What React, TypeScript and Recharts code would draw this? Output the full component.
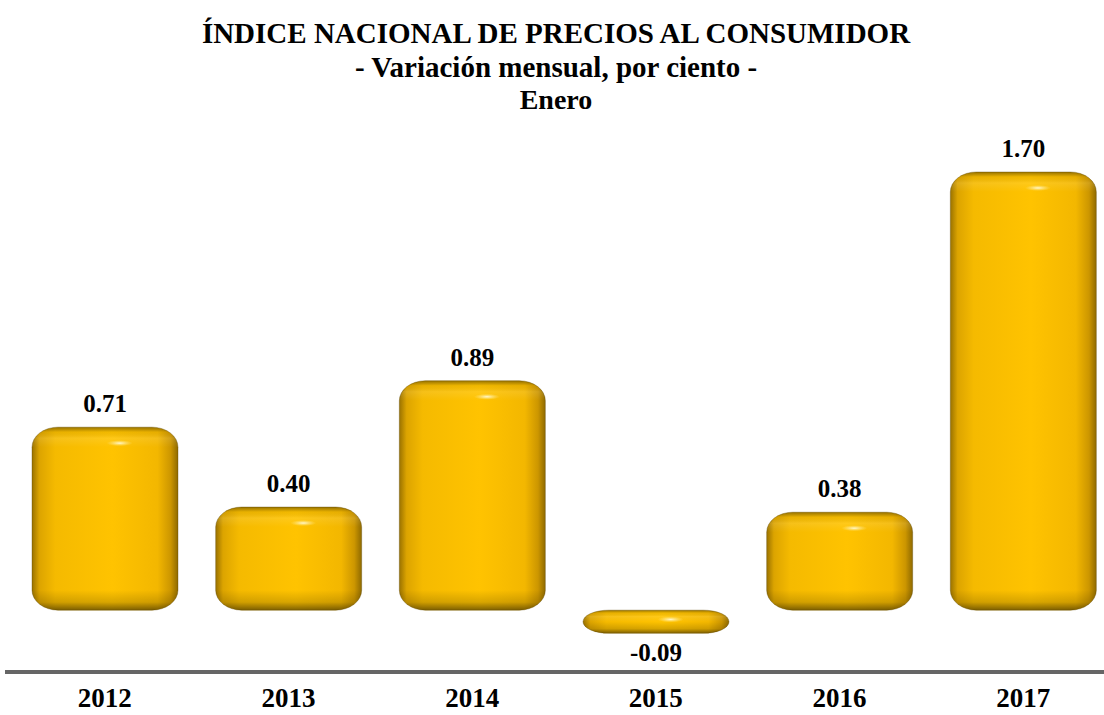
import React from 'react';
import { BarChart, Bar, XAxis, YAxis, LabelList } from 'recharts';

const years = ['2012', '2013', '2014', '2015', '2016', '2017'];
const values = [0.71, 0.4, 0.89, -0.09, 0.38, 1.7];

const data = years.map((year, i) => ({ year, value: values[i] }));

const FONT = "'Liberation Serif', 'Times New Roman', 'DejaVu Serif', serif";

function CapsuleBar(props: any) {
  let { x, y, width, height, index } = props;
  if (height < 0) {
    y += height;
    height = -height;
  }
  if (!width || !height) return null;
  const rx = Math.min(26, width / 2);
  const ry = Math.min(20, height / 2);
  const hid = `h-${index}`;
  const vid = `v-${index}`;
  const gid = `g-${index}`;
  const edge = Math.min(0.5, ry / height);
  return (
    <g>
      <defs>
        <linearGradient id={hid} x1="0" y1="0" x2="1" y2="0">
          <stop offset="0%" stopColor="#9a7200" />
          <stop offset="5%" stopColor="#dca400" />
          <stop offset="16%" stopColor="#f5ba00" />
          <stop offset="55%" stopColor="#ffc300" />
          <stop offset="86%" stopColor="#f3b700" />
          <stop offset="95%" stopColor="#cc9600" />
          <stop offset="100%" stopColor="#8f6a00" />
        </linearGradient>
        <linearGradient id={vid} x1="0" y1="0" x2="0" y2="1">
          <stop offset="0%" stopColor="#000" stopOpacity={0.4} />
          <stop offset={`${edge * 25}%`} stopColor="#000" stopOpacity={0.05} />
          <stop offset={`${edge * 55}%`} stopColor="#fff" stopOpacity={0.1} />
          <stop offset={`${edge * 100}%`} stopColor="#fff" stopOpacity={0} />
          <stop offset={`${100 - edge * 100}%`} stopColor="#000" stopOpacity={0} />
          <stop offset={`${100 - edge * 40}%`} stopColor="#000" stopOpacity={0.15} />
          <stop offset="100%" stopColor="#000" stopOpacity={0.5} />
        </linearGradient>
        <radialGradient id={gid}>
          <stop offset="0%" stopColor="#fff8d0" stopOpacity={1} />
          <stop offset="100%" stopColor="#ffe680" stopOpacity={0} />
        </radialGradient>
      </defs>
      <rect x={x} y={y} width={width} height={height} rx={rx} ry={ry} fill={`url(#${hid})`} />
      <rect x={x} y={y} width={width} height={height} rx={rx} ry={ry} fill={`url(#${vid})`} stroke="#5a4300" strokeOpacity={0.35} strokeWidth={1} />
      <ellipse cx={x + width * 0.6} cy={y + Math.min(ry * 0.8, height / 2)} rx={13} ry={Math.min(3, height / 4)} fill={`url(#${gid})`} />
    </g>
  );
}

function ValueLabel(props: any) {
  const { x, y, width, height, value } = props;
  const neg = value < 0;
  const top = height < 0 ? y + height : y;
  const bottom = height < 0 ? y : y + height;
  const ty = neg ? bottom + 28 : top - 15;
  return (
    <text
      x={x + width / 2}
      y={ty}
      textAnchor="middle"
      style={{ fontFamily: FONT, fontWeight: 700, fontSize: 25 }}
      fill="#000"
    >
      {value.toFixed(2)}
    </text>
  );
}

function YearTick(props: any) {
  const { x, y, payload } = props;
  return (
    <text x={x} y={y + 27} textAnchor="middle" style={{ fontFamily: FONT, fontWeight: 700, fontSize: 27 }} fill="#000">
      {payload.value}
    </text>
  );
}

export default function App() {
  return (
    <div style={{ position: 'fixed', left: 0, top: 0, width: 1104, height: 715, overflow: 'hidden', background: '#fff' }}>
      <div style={{ position: 'absolute', left: 0, top: 0, width: 1112, textAlign: 'center', fontFamily: FONT, fontWeight: 'bold', color: '#000' }}>
        <div style={{ position: 'absolute', top: 16, width: '100%', fontSize: 29, lineHeight: '34px' }}>
          ÍNDICE NACIONAL DE PRECIOS AL CONSUMIDOR
        </div>
        <div style={{ position: 'absolute', top: 50, width: '100%', fontSize: 29, lineHeight: '34px' }}>
          - Variación mensual, por ciento -
        </div>
        <div style={{ position: 'absolute', top: 83, width: '100%', fontSize: 28, lineHeight: '34px' }}>
          Enero
        </div>
      </div>
      <BarChart
        width={1120}
        height={715}
        data={data}
        margin={{ top: 123, right: 5, left: 5, bottom: 0 }}
        barSize={146}
      >
        <YAxis hide domain={[-0.24, 1.89]} />
        <XAxis
          dataKey="year"
          height={43}
          padding={{ left: 8, right: 0 }}
          axisLine={{ stroke: '#666666', strokeWidth: 4 }}
          tickLine={false}
          tick={<YearTick />}
          interval={0}
        />
        <Bar dataKey="value" shape={<CapsuleBar />} isAnimationActive={false}>
          <LabelList dataKey="value" content={<ValueLabel />} />
        </Bar>
      </BarChart>
    </div>
  );
}
